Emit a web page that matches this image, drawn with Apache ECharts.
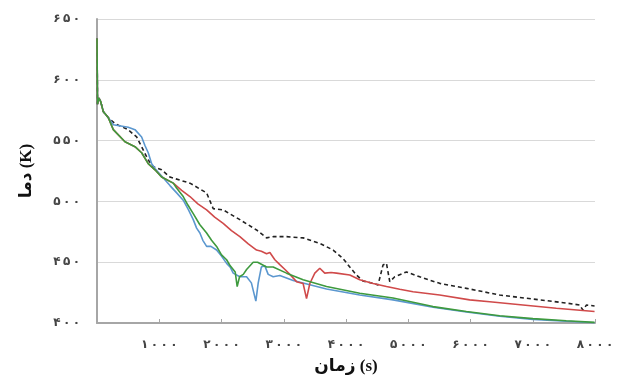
<!DOCTYPE html>
<html>
<head>
<meta charset="utf-8">
<script src="https://cdn.jsdelivr.net/npm/echarts@6/dist/echarts.min.js"></script>
<style>
  html, body { margin: 0; padding: 0; background: #fff; }
  #main { width: 619px; height: 383px; }
</style>
</head>
<body>
<div id="main"></div>
<script>
// ticks (Persian digits)
const persianDigits = ['۰', '۱', '۲', '۳', '۴', '۵', '۶', '۷', '۸', '۹'];
const xTitle = 'زمان (s)';
const yTitle = 'دما (K)';

// [time (s), temperature (K)]
const blueLine = [
    [0, 634], [8, 580], [30, 585], [60, 582], [100, 574], [180, 569],
    [262, 563], [502, 561], [610, 559], [717, 553], [770, 546], [823, 540],
    [878, 531], [931, 527], [1172, 513], [1280, 507], [1385, 501], [1470, 493],
    [1546, 485], [1600, 478], [1653, 474], [1700, 468], [1761, 463], [1830, 463],
    [1921, 460], [2000, 455], [2082, 449], [2140, 446], [2188, 441], [2295, 438],
    [2403, 438], [2480, 433], [2552, 418], [2590, 433], [2640, 446], [2696, 447],
    [2750, 440], [2830, 438], [2937, 439], [3151, 435], [3687, 428], [4221, 423],
    [4756, 419], [5398, 413], [5934, 409], [6468, 405.5], [7003, 403], [7538, 401.4],
    [7993, 400.2]
];
const greenLine = [
    [0, 634], [8, 580], [30, 585], [60, 582], [100, 574], [180, 569],
    [262, 559], [449, 549], [610, 545], [717, 540], [823, 531], [931, 526],
    [1038, 520], [1225, 515], [1278, 511], [1310, 512], [1385, 504], [1460, 497],
    [1546, 490], [1650, 481], [1761, 474], [1840, 468], [1921, 463], [2000, 456],
    [2082, 452], [2140, 447], [2188, 444], [2220, 442], [2252, 430], [2290, 438],
    [2350, 440], [2403, 444], [2509, 450], [2580, 450], [2724, 446], [2830, 446],
    [3045, 441], [3311, 435.5], [3687, 430], [4221, 424.5], [4756, 420.5], [5398, 413.5],
    [5934, 409.5], [6468, 406], [7003, 403.6], [7538, 401.8], [7993, 400.5]
];
const redLine = [
    [0, 634], [8, 580], [30, 585], [60, 582], [100, 574], [180, 569],
    [262, 559], [449, 549], [610, 545], [717, 540], [823, 531], [931, 526],
    [1038, 520], [1225, 515], [1360, 509], [1493, 504], [1620, 498], [1761, 493],
    [1890, 487], [2027, 482], [2160, 476], [2295, 471], [2430, 465], [2563, 460],
    [2640, 459], [2724, 457], [2777, 458], [2857, 452], [2937, 448], [3020, 444],
    [3098, 440], [3205, 434], [3311, 432.5], [3366, 420], [3419, 432.5], [3499, 441],
    [3579, 445], [3659, 441], [3760, 441.5], [3847, 441], [4061, 439.5], [4221, 435.5],
    [4435, 432.5], [4650, 430], [4863, 427.7], [5077, 425.7], [5505, 423], [5987, 419],
    [6308, 417.5], [6842, 414.8], [7378, 412.1], [7993, 409.5]
];
const dashedLine = [
    [0, 634], [8, 580], [30, 585], [60, 582], [100, 574], [180, 569],
    [289, 564], [498, 559], [637, 553], [717, 545], [823, 534], [904, 528.5],
    [1038, 526], [1172, 520], [1493, 515], [1761, 507], [1867, 494], [2027, 493],
    [2295, 485], [2563, 476.5], [2724, 470], [2830, 471], [3045, 471], [3311, 470],
    [3579, 465.5], [3793, 460], [3953, 453], [4061, 446], [4168, 439.5], [4274, 434.5],
    [4435, 432.6], [4515, 431.3], [4595, 447.7], [4650, 449], [4703, 434], [4783, 438],
    [4971, 442], [5184, 438], [5505, 432.6], [5934, 428.5], [6468, 423], [7003, 419.7],
    [7538, 416.4], [7752, 414.8], [7805, 410.7], [7864, 414.8], [7993, 414]
];

// persian digits, spaced out like the original labels
function toPersian(n) {
    return String(n).split('').map(d => persianDigits[+d]).join('\u2009');
}

const chart = echarts.init(document.getElementById('main'));

const labelStyle = {
    fontFamily: 'DejaVu Sans',
    fontWeight: 'bold',
    fontSize: 12,
    color: '#444'
};
const titleStyle = {
    fontFamily: 'Liberation Serif, DejaVu Sans',
    fontWeight: 'bold',
    fontSize: 17,
    color: '#111'
};

const option = {
    backgroundColor: '#fff',
    animation: false,
    grid: {left: 97, right: 24, top: 19, bottom: 60},
    xAxis: {
        type: 'value',
        min: 0,
        max: 8000,
        interval: 1000,
        name: xTitle,
        nameLocation: 'middle',
        nameGap: 35,
        nameTextStyle: titleStyle,
        axisLine: {lineStyle: {color: '#a6a6a6', width: 2}},
        axisTick: {show: true, inside: true, length: 4, lineStyle: {color: '#a6a6a6'}},
        axisLabel: Object.assign({
            margin: 16,
            formatter: v => v === 0 ? '' : toPersian(v)
        }, labelStyle),
        splitLine: {show: false}
    },
    yAxis: {
        type: 'value',
        min: 400,
        max: 650,
        interval: 50,
        name: yTitle,
        nameLocation: 'middle',
        nameGap: 62,
        nameTextStyle: titleStyle,
        axisLine: {show: true, lineStyle: {color: '#a6a6a6', width: 2}},
        axisTick: {show: false},
        axisLabel: Object.assign({
            margin: 17,
            formatter: v => toPersian(v)
        }, labelStyle),
        splitLine: {lineStyle: {color: '#d9d9d9', width: 1}}
    },
    series: [
        {
            name: 'dashed',
            type: 'line',
            data: dashedLine,
            symbol: 'none',
            lineStyle: {color: '#222', width: 1.6, type: [4, 3]},
            z: 2
        },
        {
            name: 'blue',
            type: 'line',
            data: blueLine,
            symbol: 'none',
            lineStyle: {color: '#5b97cf', width: 1.6},
            z: 3
        },
        {
            name: 'red',
            type: 'line',
            data: redLine,
            symbol: 'none',
            lineStyle: {color: '#d04a4a', width: 1.6},
            z: 4
        },
        {
            name: 'green',
            type: 'line',
            data: greenLine,
            symbol: 'none',
            lineStyle: {color: '#3e9a3e', width: 1.6},
            z: 5
        }
    ]
};

chart.setOption(option);
</script>
</body>
</html>
